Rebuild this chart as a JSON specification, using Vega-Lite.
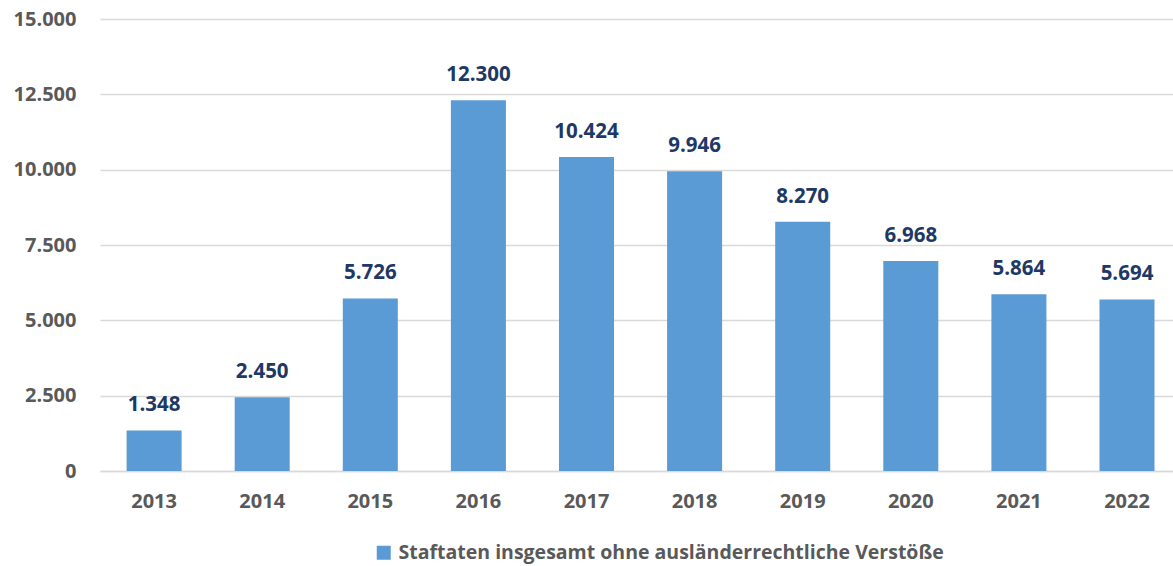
{
  "$schema": "https://vega.github.io/schema/vega-lite/v6.json",
  "width": 1073,
  "height": 452,
  "autosize": {"type": "none"},
  "padding": {"left": 100, "top": 19, "right": 0, "bottom": 95},
  "config": {
    "view": {"stroke": null},
    "font": "Open Sans",
    "locale": {"number": {"decimal": ",", "thousands": ".", "grouping": [3], "currency": ["", " €"]}}
  },
  "data": {
    "values": [
      {"year": "2013", "value": 1348, "series": "Staftaten insgesamt ohne ausländerrechtliche Verstöße"},
      {"year": "2014", "value": 2450, "series": "Staftaten insgesamt ohne ausländerrechtliche Verstöße"},
      {"year": "2015", "value": 5726, "series": "Staftaten insgesamt ohne ausländerrechtliche Verstöße"},
      {"year": "2016", "value": 12300, "series": "Staftaten insgesamt ohne ausländerrechtliche Verstöße"},
      {"year": "2017", "value": 10424, "series": "Staftaten insgesamt ohne ausländerrechtliche Verstöße"},
      {"year": "2018", "value": 9946, "series": "Staftaten insgesamt ohne ausländerrechtliche Verstöße"},
      {"year": "2019", "value": 8270, "series": "Staftaten insgesamt ohne ausländerrechtliche Verstöße"},
      {"year": "2020", "value": 6968, "series": "Staftaten insgesamt ohne ausländerrechtliche Verstöße"},
      {"year": "2021", "value": 5864, "series": "Staftaten insgesamt ohne ausländerrechtliche Verstöße"},
      {"year": "2022", "value": 5694, "series": "Staftaten insgesamt ohne ausländerrechtliche Verstöße"}
    ]
  },
  "encoding": {
    "x": {
      "field": "year",
      "type": "ordinal",
      "scale": {"paddingInner": 0.491, "paddingOuter": 0.2085, "align": 0.59},
      "axis": {
        "title": null,
        "labelAngle": 0,
        "labelFont": "Open Sans",
        "labelFontWeight": "bold",
        "labelFontSize": 20,
        "labelColor": "#595959",
        "labelPadding": 20,
        "ticks": false,
        "domainColor": "#D9D9D9",
        "domainWidth": 1.5
      }
    },
    "y": {
      "field": "value",
      "type": "quantitative",
      "scale": {"domain": [0, 15000], "nice": false},
      "axis": {
        "title": null,
        "values": [0, 2500, 5000, 7500, 10000, 12500, 15000],
        "format": ",.0f",
        "labelFont": "Open Sans",
        "labelFontWeight": "bold",
        "labelFontSize": 20,
        "labelColor": "#595959",
        "labelPadding": 24,
        "ticks": false,
        "domain": false,
        "gridColor": "#D9D9D9",
        "gridWidth": 1.5
      }
    }
  },
  "layer": [
    {
      "mark": {"type": "bar"},
      "encoding": {
        "color": {
          "field": "series",
          "type": "nominal",
          "scale": {"range": ["#5B9BD5"]},
          "legend": {
            "title": null,
            "orient": "none",
            "legendX": 274,
            "legendY": 524,
            "symbolType": "square",
            "symbolSize": 196,
            "symbolStrokeWidth": 0,
            "labelFont": "Open Sans",
            "labelFontWeight": "bold",
            "labelFontSize": 19.5,
            "labelColor": "#595959",
            "labelOffset": 5,
            "labelLimit": 800
          }
        }
      }
    },
    {
      "mark": {"type": "text", "baseline": "alphabetic", "dy": -19, "font": "Open Sans", "fontWeight": "bold", "fontSize": 20.5, "color": "#203864"},
      "encoding": {
        "text": {"field": "value", "type": "quantitative", "format": ",.0f"}
      }
    }
  ]
}
